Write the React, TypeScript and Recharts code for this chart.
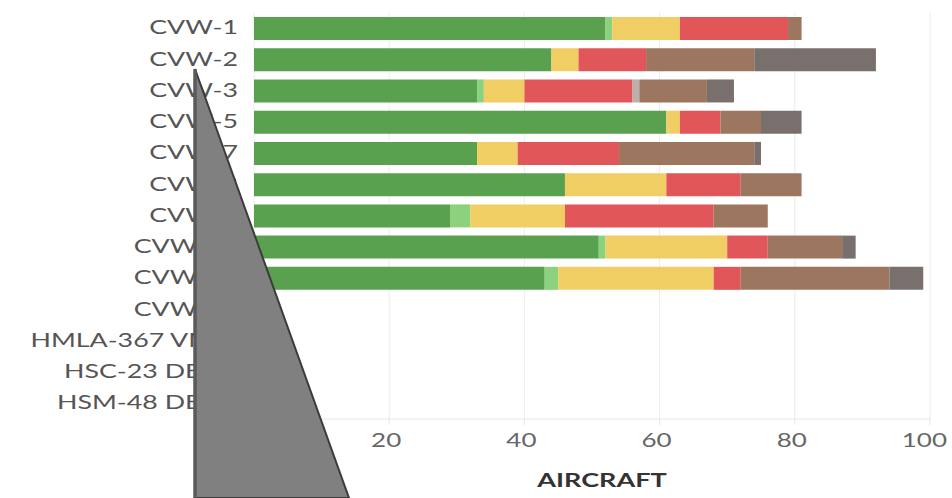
import React from "react";
import { BarChart, Bar, XAxis, YAxis, CartesianGrid } from "recharts";

const categories = [
  "CVW-1", "CVW-2", "CVW-3", "CVW-5", "CVW-7", "CVW-8", "CVW-9",
  "CVW-11", "CVW-17", "CVW-20", "HMLA-367 VMM", "HSC-23 DET 1", "HSM-48 DET 1",
];

// aircraft count per status, one entry per category above
const fmc = [52, 44, 33, 61, 33, 46, 29, 51, 43, 0, 0, 0, 0];
const mc = [1, 0, 1, 0, 0, 0, 3, 1, 2, 0, 0, 0, 0];
const pmc = [10, 4, 6, 2, 6, 15, 14, 18, 23, 0, 0, 0, 0];
const nmc = [16, 10, 16, 6, 15, 11, 22, 6, 4, 0, 0, 0, 0];
const trans = [0, 0, 1, 0, 0, 0, 0, 0, 0, 0, 0, 0, 0];
const depot = [2, 16, 10, 6, 20, 9, 8, 11, 22, 0, 0, 0, 0];
const other = [0, 18, 4, 6, 1, 0, 0, 2, 5, 0, 0, 0, 0];

const xTicks = [0, 20, 40, 60, 80, 100];

const series = [
  { key: "fmc", vals: fmc, color: "#59A14F" },
  { key: "mc", vals: mc, color: "#8CD17D" },
  { key: "pmc", vals: pmc, color: "#F1CE63" },
  { key: "nmc", vals: nmc, color: "#E15759" },
  { key: "trans", vals: trans, color: "#BAB0AC" },
  { key: "depot", vals: depot, color: "#9D7660" },
  { key: "other", vals: other, color: "#79706E" },
];

const data = categories.map((name, i) => {
  const row: Record<string, string | number> = { name };
  series.forEach((s) => (row[s.key] = s.vals[i]));
  return row;
});

const font = "Lato, 'Open Sans', sans-serif";

function YTick(props: any) {
  const { x, y, payload } = props;
  return (
    <g transform={`translate(${x - 14},${y - 1})`}>
      <text transform="scale(1.41,1)" textAnchor="end" dy="0.36em" fill="#555" fontSize={19} fontFamily={font}>
        {payload.value}
      </text>
    </g>
  );
}

function XTick(props: any) {
  const { x, y, payload } = props;
  const last = payload.value === 100;
  return (
    <g transform={`translate(${last ? 947 : x - 3},${y})`}>
      <text
        transform="scale(1.3,1)"
        textAnchor={last ? "end" : "middle"}
        dy="1.02em"
        fill="#666"
        fontSize={20}
        fontFamily={font}
      >
        {payload.value}
      </text>
    </g>
  );
}

function AxisTitle(props: any) {
  const { viewBox } = props;
  const cx = viewBox.x + viewBox.width / 2 + 10;
  return (
    <g transform={`translate(${cx},${viewBox.y + 62})`}>
      <text transform="scale(1.5,1)" textAnchor="middle" dy="0.35em" fill="#333" fontSize={18} fontWeight={700} fontFamily={font}>
        AIRCRAFT
      </text>
    </g>
  );
}

export default function App() {
  return (
    <div style={{ position: "absolute", left: 0, top: 0, width: 952, height: 498, background: "#fff" }}>
      <BarChart
        width={952}
        height={498}
        data={data}
        layout="vertical"
        margin={{ top: 13, right: 22, left: 0, bottom: 0 }}
        barSize={23}
      >
        <CartesianGrid horizontal={false} stroke="#ececec" />
        <XAxis
          type="number"
          domain={[0, 100]}
          ticks={xTicks}
          height={79}
          stroke="#e6e6e6"
          tickSize={6}
          tick={<XTick />}
          label={{ value: "AIRCRAFT", content: <AxisTitle /> }}
        />
        <YAxis
          type="category"
          dataKey="name"
          width={254}
          axisLine={false}
          tickLine={false}
          tickSize={0}
          interval={0}
          tick={<YTick />}
        />
        {series.map((s) => (
          <Bar key={s.key} dataKey={s.key} stackId="a" fill={s.color} isAnimationActive={false} />
        ))}
      </BarChart>
      <svg width={952} height={498} style={{ position: "absolute", left: 0, top: 0 }}>
        <polygon points="195,69 349,498 195,498" fill="#808080" stroke="#3c3c3c" strokeWidth={2} />
        <line x1={195} y1={69} x2={195} y2={498} stroke="#5a5a5a" strokeWidth={3.5} />
      </svg>
    </div>
  );
}
